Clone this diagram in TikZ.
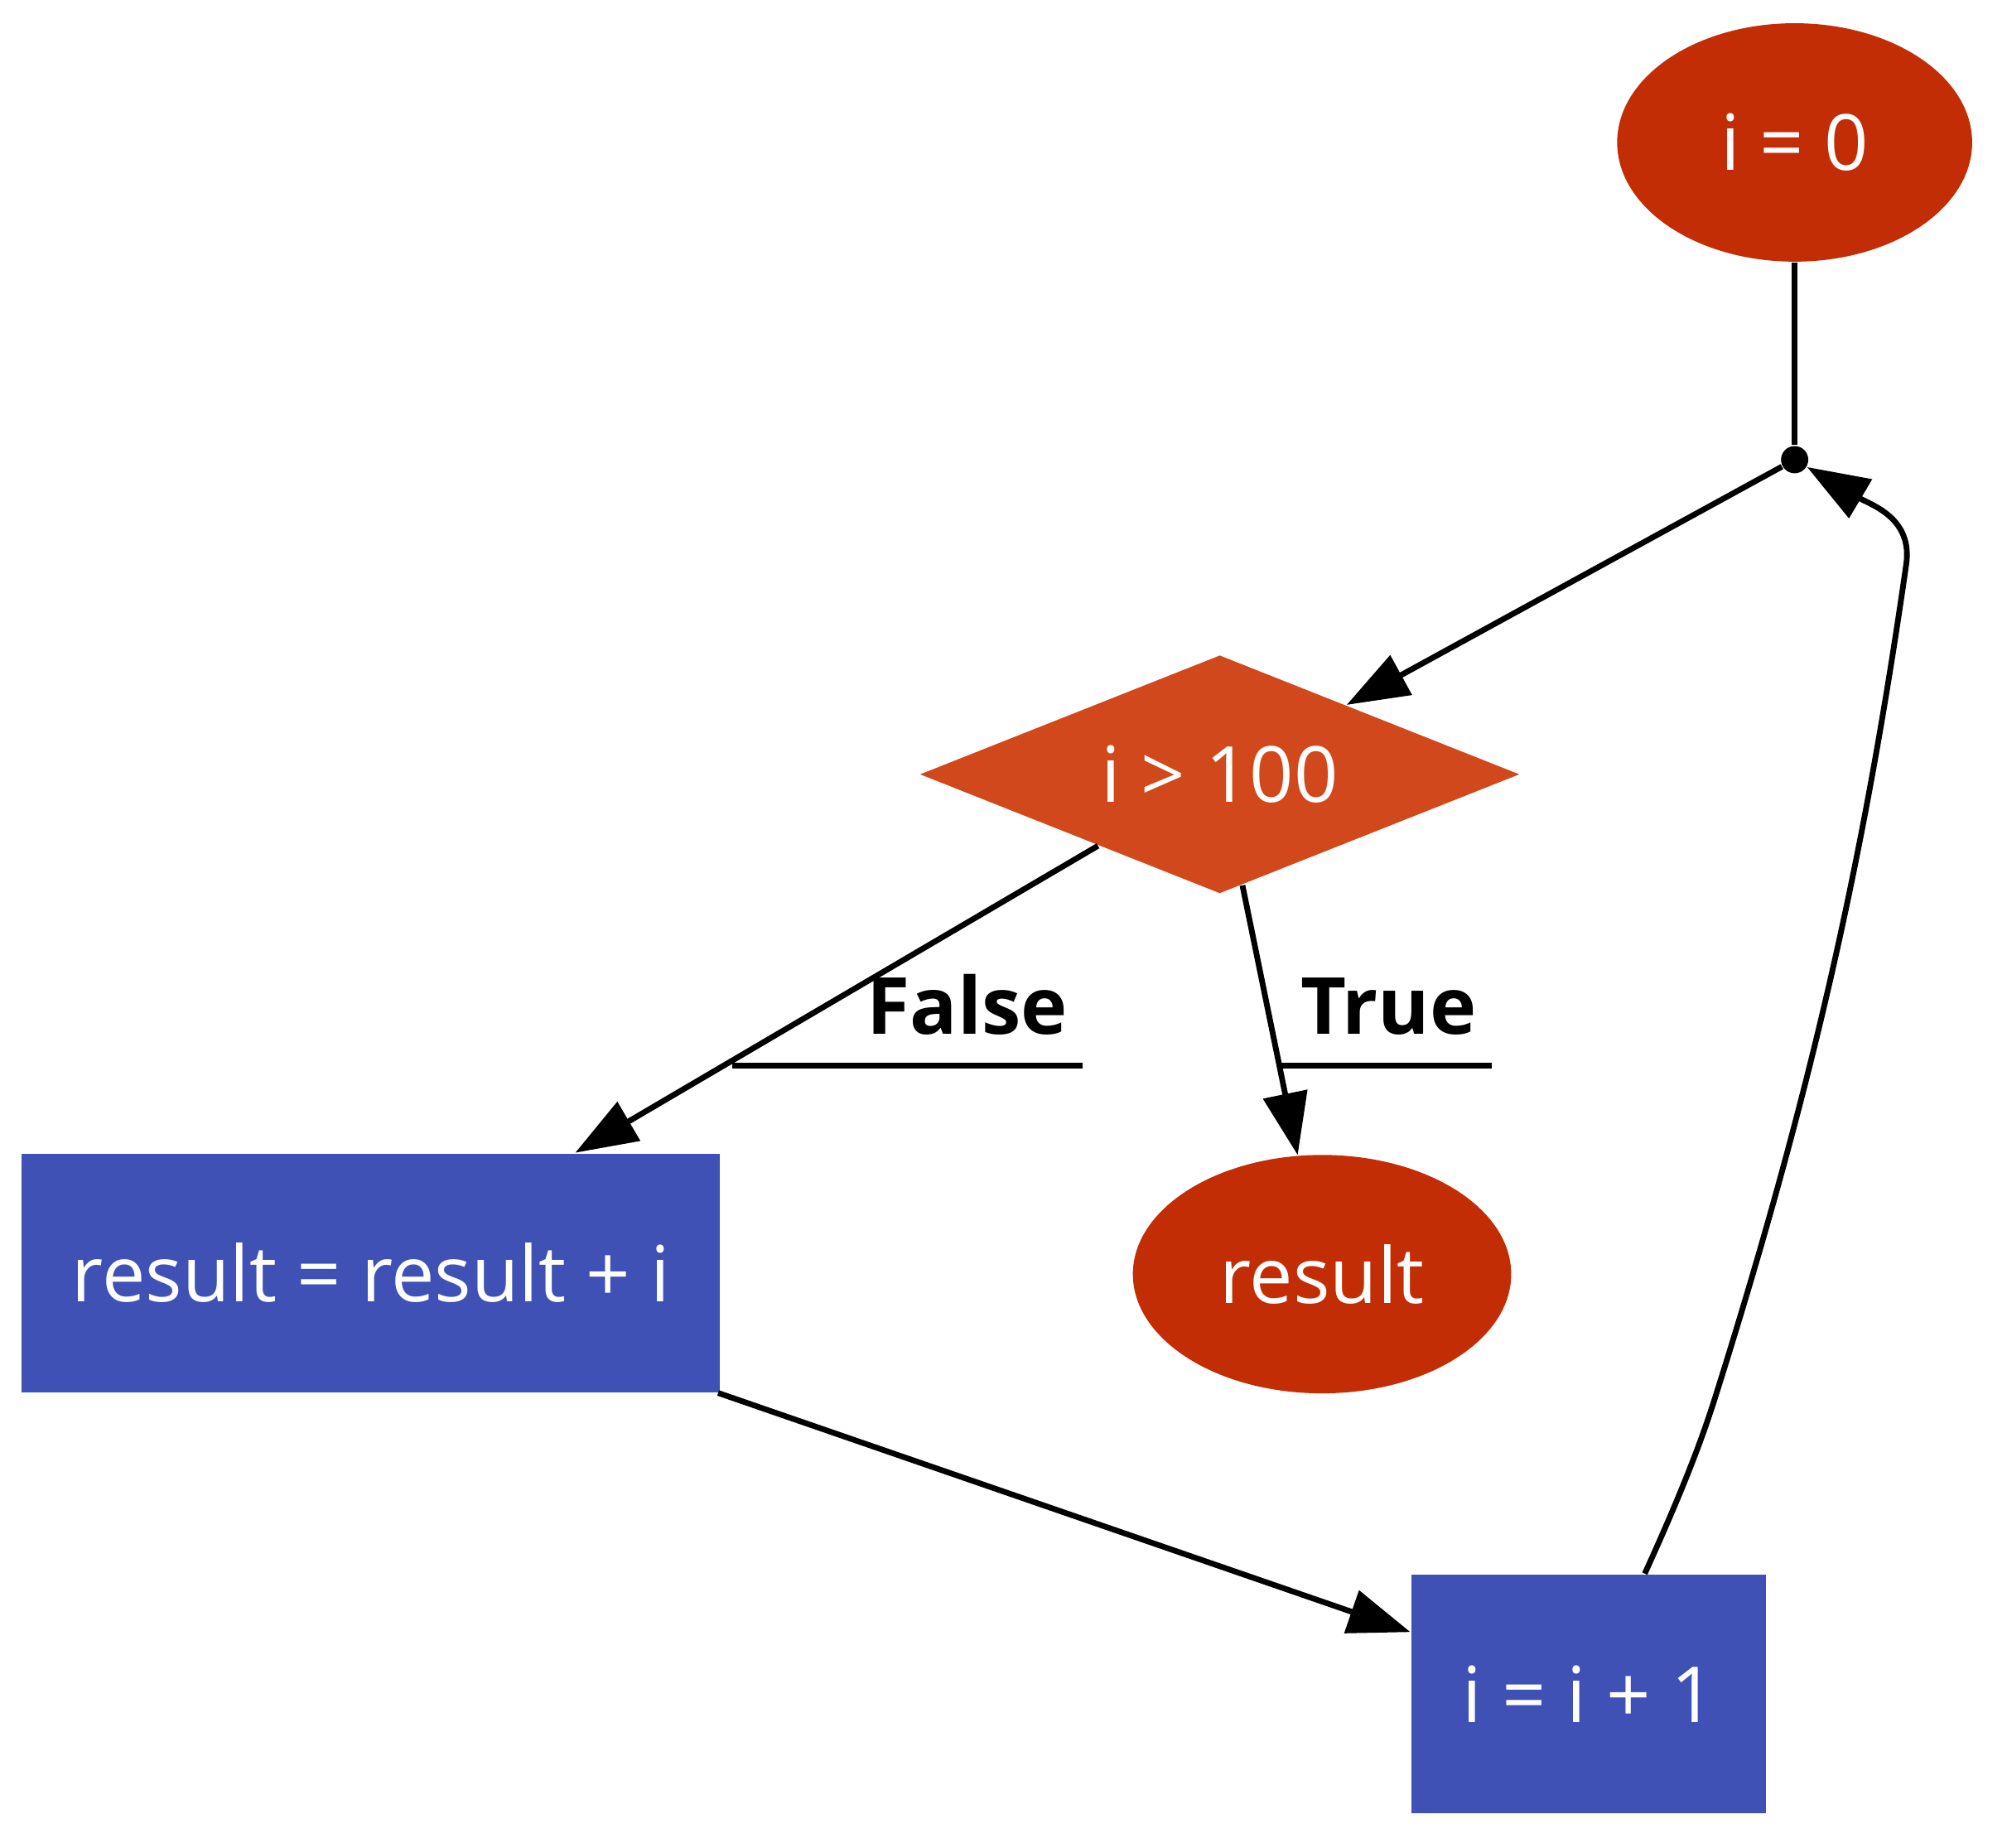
\documentclass[tikz,border=0pt]{standalone}
\usepackage{fontspec}
\setmainfont{Open Sans}
\usetikzlibrary{shapes.geometric, arrows.meta}
\definecolor{termred}{HTML}{C22D05}
\definecolor{testred}{HTML}{D1481D}
\definecolor{stepblue}{HTML}{3F51B5}

\begin{document}
\begin{tikzpicture}[x=0.01cm, y=-0.01cm,
  font=\fontsize{17}{20}\selectfont,
  term/.style={ellipse, fill=termred, text=white, inner sep=0pt, minimum height=1.84cm},
  test/.style={diamond, fill=testred, text=white, inner sep=0pt, aspect=2.5,
    minimum width=4.63cm, minimum height=1.84cm},
  stepbox/.style={rectangle, fill=stepblue, text=white, inner sep=0pt, minimum height=1.84cm},
  wire/.style={line width=1.25pt},
  flow/.style={wire, -{Triangle[length=0.48cm, width=0.34cm]}},
  lbl/.style={font=\fontsize{17.3}{20}\selectfont\bfseries, inner xsep=0.11cm,
    inner ysep=0.23cm, anchor=south east}]
\useasboundingbox (0,0) rectangle (1550,1427);

\node[term, minimum width=2.74cm] (init) at (1386,110) {i = 0};
\node[circle, fill, inner sep=0pt, minimum size=0.21cm] (join) at (1386,355) {};
\node[test] (cond) at (942,598) {i > 100};
\node[stepbox, minimum width=5.39cm] (body) at (286.5,983) {result = result + i};
\node[term, minimum width=2.92cm] (res) at (1021,984) {result};
\node[stepbox, minimum width=2.74cm] (incr) at (1227,1308) {i = i + 1};

\draw[wire] (init) -- (join);
\draw[flow] (join) -- (cond);
\draw[flow] (cond) -- coordinate[pos=0.70] (fx) (body);
\draw[flow] (cond) -- coordinate[pos=0.68] (tx) (res);
\draw[flow] (body) -- (incr);
\draw[flow] (incr.65) .. controls (1300,1150) and (1315,1110) .. (1325,1078)
  .. controls (1400,840) and (1440,660) .. (1472,437)
  .. controls (1478,400) and (1445,390) .. (join);

\node[lbl] (lfalse) at (836,823) {False};
\node[lbl] (ltrue) at (1152,823) {True};
\draw[wire] (fx |- lfalse.south) -- (lfalse.south east);
\draw[wire] (tx |- ltrue.south) -- (ltrue.south east);
\end{tikzpicture}
\end{document}
